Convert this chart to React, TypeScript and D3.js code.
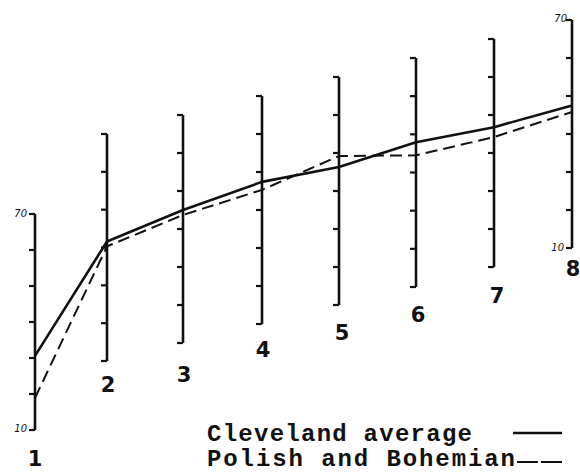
import React from "react";
import * as d3 from "d3";

// ---- data ----
const categories = ["1", "2", "3", "4", "5", "6", "7", "8"];
const clevelandAvg = [30.6, 41.6, 45.0, 47.4, 46.3, 47.9, 46.8, 47.5];
const polishBohemian = [18.9, 40.3, 43.7, 45.3, 49.2, 44.5, 44.2, 45.8];
const tickValues = [10, 20, 30, 40, 50, 60, 70];
const legendLabels = ["Cleveland average", "Polish and Bohemian"];

// ---- layout ----
const W = 580;
const H = 472;
const axisX = [35, 107, 183, 262, 339, 416, 494, 572];
const axisTop = [214, 134, 115, 96, 77, 58, 39, 20];
const axisLen = [216, 227, 228, 228, 228, 229, 228, 228];
const labelPos = [
  [35, 466],
  [108, 392],
  [184, 382],
  [263, 357],
  [342, 340],
  [418, 322],
  [497, 303],
  [573, 276],
];

export default function App() {
  const scales = categories.map((_, i) =>
    d3.scaleLinear().domain([10, 70]).range([axisTop[i] + axisLen[i], axisTop[i]])
  );
  const line = d3
    .line<number>()
    .x((_, i) => axisX[i])
    .y((v, i) => scales[i](v));

  const tick = 6;
  return (
    <svg
      width={W}
      height={H}
      style={{ position: "absolute", left: 0, top: 0, background: "#fff" }}
    >
      {categories.map((c, i) => {
        const s = scales[i];
        const x = axisX[i];
        return (
          <g key={c}>
            <line x1={x} x2={x} y1={s(70)} y2={s(10)} stroke="#111" strokeWidth={2.6} />
            {tickValues.map((t) => (
              <line
                key={t}
                x1={x - tick}
                x2={x}
                y1={s(t)}
                y2={s(t)}
                stroke="#111"
                strokeWidth={2.2}
              />
            ))}
            <text
              x={labelPos[i][0]}
              y={labelPos[i][1]}
              textAnchor="middle"
              fontFamily="DejaVu Sans, sans-serif"
              fontWeight="bold"
              fontSize={21}
              fill="#111"
            >
              {c}
            </text>
          </g>
        );
      })}
      {/* end-axis tick labels */}
      <text x={axisX[0] - 8} y={scales[0](70) + 3} textAnchor="end" fontFamily="DejaVu Sans, sans-serif" fontStyle="italic" fontSize={10} fill="#111">70</text>
      <text x={axisX[0] - 8} y={scales[0](10) + 2} textAnchor="end" fontFamily="DejaVu Sans, sans-serif" fontStyle="italic" fontSize={10} fill="#111">10</text>
      <text x={axisX[7] - 5} y={scales[7](70) + 2} textAnchor="end" fontFamily="DejaVu Sans, sans-serif" fontStyle="italic" fontSize={10} fill="#111">70</text>
      <text x={axisX[7] - 8} y={scales[7](10) + 3} textAnchor="end" fontFamily="DejaVu Sans, sans-serif" fontStyle="italic" fontSize={10} fill="#111">10</text>

      {/* data lines */}
      <path d={line(clevelandAvg) || ""} fill="none" stroke="#111" strokeWidth={2.6} strokeLinejoin="round" />
      <path d={line(polishBohemian) || ""} fill="none" stroke="#111" strokeWidth={2} strokeDasharray="12 6" />

      {/* legend */}
      <text x={207} y={441} fontFamily="Liberation Mono, monospace" fontWeight="bold" fontSize={24} textLength={265} lengthAdjust="spacing" fill="#111">
        {legendLabels[0]}
      </text>
      <line x1={513} x2={562} y1={433} y2={433} stroke="#111" strokeWidth={2.4} />
      <text x={207} y={466} fontFamily="Liberation Mono, monospace" fontWeight="bold" fontSize={24} textLength={308} lengthAdjust="spacing" fill="#111">
        {legendLabels[1]}
      </text>
      <line x1={517} x2={562} y1={462} y2={462} stroke="#111" strokeWidth={2.2} strokeDasharray="21 3" />
    </svg>
  );
}
